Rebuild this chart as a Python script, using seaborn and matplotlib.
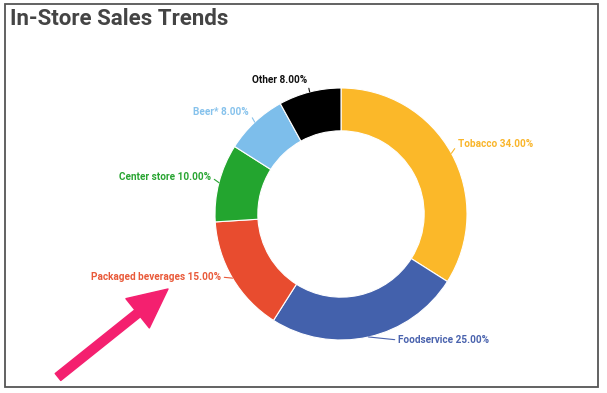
import matplotlib
matplotlib.use("Agg")
import matplotlib.pyplot as plt
import seaborn as sns
from matplotlib.patches import Rectangle
import numpy as np

# Datos
categorias = ['Tobacco', 'Foodservice', 'Packaged beverages', 'Center store', 'Beer*', 'Other']
valores = [34, 25, 15, 10, 8, 8]
colores = ['#FBB829', '#4361AC', '#E84C2F', '#23A52F', '#7DBEEB', '#000000']
colores_texto = ['#F9B52A', '#4A63AE', '#E95A3A', '#2AA533', '#86C2EC', '#111111']

# Posicion de etiquetas (pixeles de figura, origen arriba-izquierda) y alineacion
pos_etiquetas = [(458, 144), (398, 340), (221, 277), (211, 177), (249, 112), (307, 80)]
alineacion = ['left', 'left', 'right', 'right', 'right', 'right']

sns.set_theme(style='white')
plt.rcParams['font.family'] = ['Roboto', 'DejaVu Sans']

W, H = 607, 393
fig = plt.figure(figsize=(W / 100, H / 100), dpi=100)

# Ejes del donut: centro (341, 214), radio 126 px
cx, cy, r = 341, 214, 126
ax = fig.add_axes([(cx - r) / W, (H - cy - r) / H, 2 * r / W, 2 * r / H])
wedges, _ = ax.pie(valores, colors=colores, startangle=90, counterclock=False,
                   radius=1, wedgeprops=dict(width=0.34, edgecolor='white', linewidth=0.8))
ax.set_xlim(-1, 1)
ax.set_ylim(-1, 1)
ax.set_aspect('equal')
ax.axis('off')

# Etiquetas con linea conectora
for w, nombre, v, col, (px, py), ha in zip(wedges, categorias, valores, colores_texto,
                                          pos_etiquetas, alineacion):
    ang = np.deg2rad((w.theta1 + w.theta2) / 2)
    borde = (np.cos(ang), np.sin(ang))
    relx = 0 if ha == 'left' else 1
    ax.annotate(f'{nombre} {v:.2f}%', xy=borde, xycoords='data',
                xytext=(px, H - py), textcoords='figure pixels',
                ha=ha, va='center', fontsize=7.2, color=col, fontweight='bold',
                annotation_clip=False,
                arrowprops=dict(arrowstyle='-', color=col, lw=0.8,
                                shrinkA=0, shrinkB=0, relpos=(relx, 0.5)))

# Titulo
fig.text(10 / W, 1 - 19 / H, 'In-Store Sales Trends', fontsize=16, fontweight='bold',
         color='#444444', ha='left', va='center')

# Marco
fig.patches.append(Rectangle((5 / W, 1 - 387 / H), 593 / W, 383 / H, transform=fig.transFigure,
                             fill=False, edgecolor='#555555', linewidth=1.3))

# Flecha rosa
ax.annotate('', xy=(168, H - 289), xycoords='figure pixels',
            xytext=(58, H - 377), textcoords='figure pixels', annotation_clip=False,
            arrowprops=dict(arrowstyle='simple,head_length=1.4,head_width=1.35,tail_width=0.32',
                            mutation_scale=20, color='#F4206F', shrinkA=0, shrinkB=0))

plt.savefig('out.png', dpi=100)
